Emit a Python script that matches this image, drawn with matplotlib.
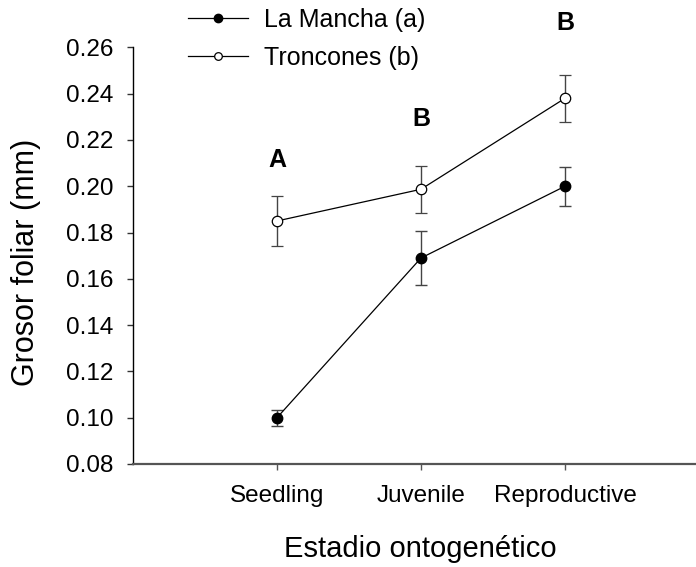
import matplotlib
matplotlib.use("Agg")
import matplotlib.pyplot as plt
from matplotlib.lines import Line2D
from matplotlib.ticker import FormatStrFormatter

plt.rcParams['font.family'] = ['Liberation Sans', 'DejaVu Sans']

stages = ['Seedling', 'Juvenile', 'Reproductive']
stage_pos = [1, 2, 3]

mancha = [0.100, 0.169, 0.200]
mancha_err = [0.0035, 0.0115, 0.0084]
troncones = [0.185, 0.1987, 0.238]
troncones_err = [0.011, 0.0101, 0.0102]

letters = ['A', 'B', 'B']
letter_y = [0.2113, 0.229, 0.2706]

fig = plt.figure(figsize=(6.96, 5.67), dpi=100)
ax = fig.add_axes([133 / 696, 1 - 464 / 567, 1 - 133 / 696, (464 - 47.4) / 567])

err_kw = dict(ecolor='#444444', elinewidth=1.0, capsize=4.3, capthick=1.0)
ax.errorbar(stage_pos, mancha, yerr=mancha_err, color='black', lw=0.9,
            marker='o', ms=7.5, mfc='black', mec='black', **err_kw)
ax.errorbar(stage_pos, troncones, yerr=troncones_err, color='black', lw=0.9,
            marker='o', ms=7.5, mfc='white', mec='black', mew=0.9, **err_kw)

for x, y, t in zip(stage_pos, letter_y, letters):
    ax.text(x, y, t, ha='center', va='center', fontsize=18,
            fontweight='bold', clip_on=False)

ax.set_xlim(0, 3.91)
ax.set_ylim(0.08, 0.26)
ax.set_xticks(stage_pos)
ax.set_xticklabels(stages, fontsize=17.5)
ax.set_yticks([0.08 + 0.02 * i for i in range(10)])
ax.yaxis.set_major_formatter(FormatStrFormatter('%.2f'))
ax.tick_params(axis='y', labelsize=17.5, length=4.3, width=1, color='#333333', pad=10)
ax.tick_params(axis='x', length=4, width=1, color='#555555', pad=11)

ax.spines['top'].set_visible(False)
ax.spines['right'].set_visible(False)
ax.spines['left'].set_linewidth(1.0)
ax.spines['bottom'].set_color('#555555')
ax.spines['bottom'].set_linewidth(1.6)

ax.set_xlabel('Estadio ontogenético', fontsize=21, va='center')
ax.xaxis.set_label_coords(0.51, -0.204)
ax.set_ylabel('Grosor foliar (mm)', fontsize=22, va='center')
ax.yaxis.set_label_coords(-0.19, 0.485)

handles = [
    Line2D([], [], color='black', lw=0.9, marker='o', ms=6, mfc='black', mec='black'),
    Line2D([], [], color='black', lw=0.9, marker='o', ms=5.5, mfc='white', mec='black', mew=0.9),
]
ax.legend(handles, ['La Mancha (a)', 'Troncones (b)'], loc='upper left',
          bbox_to_anchor=(188 / 696, 1 - 8 / 567), bbox_transform=fig.transFigure,
          frameon=False, fontsize=18, handlelength=2.4, handletextpad=0.65,
          labelspacing=0.54, borderpad=0, borderaxespad=0)

fig.savefig('out.png', dpi=100)
